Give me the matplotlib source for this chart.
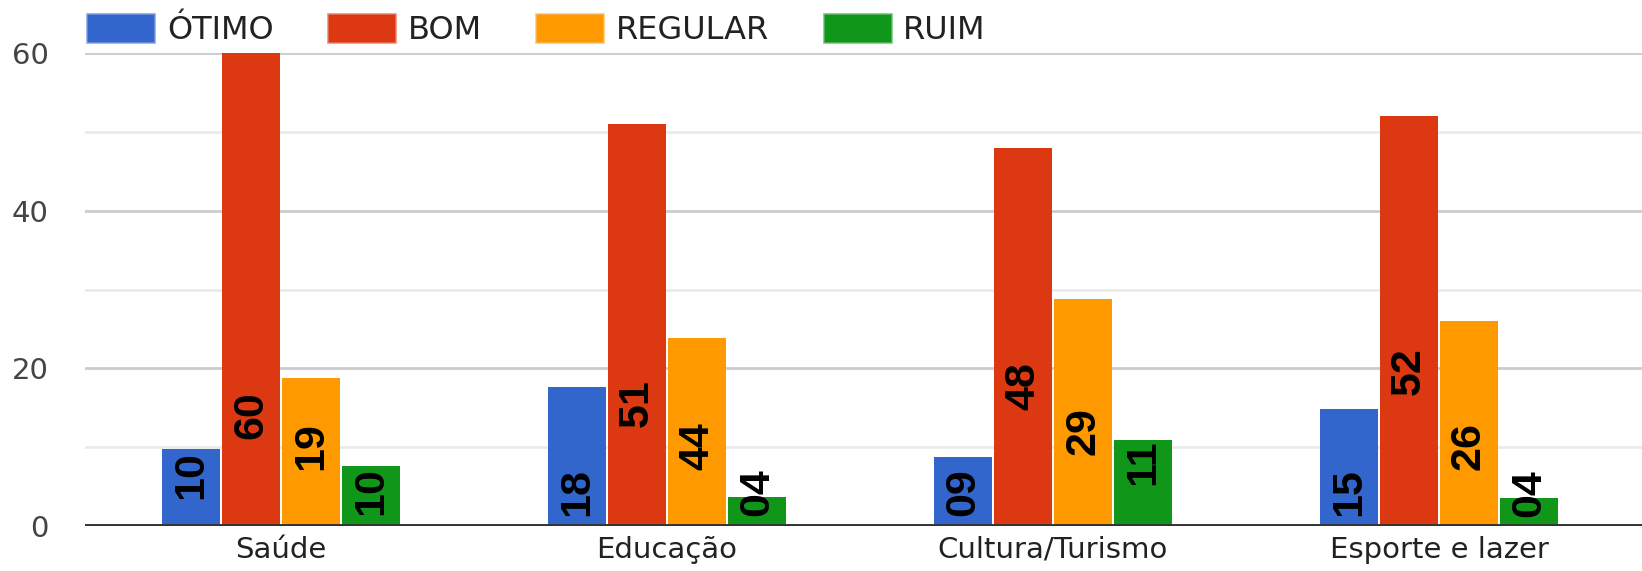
import numpy as np
import matplotlib.pyplot as plt
from matplotlib.patches import Patch

# categories and series
categories = ['Saúde', 'Educação', 'Cultura/Turismo', 'Esporte e lazer']
series = ['ÓTIMO', 'BOM', 'REGULAR', 'RUIM']
colors = ['#3366cc', '#dc3912', '#ff9900', '#109618']

# bar heights as drawn
otimo = [9.8, 17.6, 8.8, 14.8]
bom = [60, 51, 48, 52]
regular = [18.8, 23.8, 28.8, 26]
ruim = [7.6, 3.7, 10.9, 3.6]

# numbers written on the bars
otimo_lbl = ['10', '18', '09', '15']
bom_lbl = ['60', '51', '48', '52']
regular_lbl = ['19', '44', '29', '26']
ruim_lbl = ['10', '04', '11', '04']

# height of the centre of each written number
otimo_lbl_y = [6.5, 4.35, 4.3, 4.3]
bom_lbl_y = [14.1, 15.6, 17.8, 19.7]
regular_lbl_y = [10.1, 10.1, 12.0, 10.1]
ruim_lbl_y = [4.4, 4.3, 8.1, 4.2]

values = [otimo, bom, regular, ruim]
labels = [otimo_lbl, bom_lbl, regular_lbl, ruim_lbl]
label_y = [otimo_lbl_y, bom_lbl_y, regular_lbl_y, ruim_lbl_y]

plt.rcParams['font.family'] = 'DejaVu Sans'

fig = plt.figure(figsize=(16.42, 5.71), dpi=100)
ax = fig.add_axes([85 / 1642, 1 - 526 / 571, 1 - 85 / 1642, (526 - 53.3) / 571])

x = np.arange(len(categories))
slot = 0.1555
width = 0.149
for i, (vals, c) in enumerate(zip(values, colors)):
    pos = x + (i - 1.5) * slot
    ax.bar(pos, vals, width=width, color=c, zorder=2)
    for px, ly, txt in zip(pos, label_y[i], labels[i]):
        ax.text(px, ly, txt, rotation=90, ha='center', va='center',
                fontsize=31, fontweight='bold', family='Liberation Sans',
                color='black', zorder=3)

ax.set_xlim(-0.508, 3.526)
ax.set_ylim(0, 60)
ax.set_yticks([0, 20, 40, 60])
ax.set_yticks([10, 30, 50], minor=True)
ax.grid(True, which='major', axis='y', color='#cccccc', lw=2, zorder=0)
ax.grid(True, which='minor', axis='y', color='#ebebeb', lw=2, zorder=0)
ax.set_axisbelow(True)
ax.axhline(0, color='#333333', lw=2.8, zorder=4)
for s in ax.spines.values():
    s.set_visible(False)

ax.set_xticks(x)
ax.set_xticklabels(categories, fontsize=21, color='#222222')
ax.tick_params(axis='x', length=0, pad=7)
ax.tick_params(axis='y', which='both', length=0, pad=26, labelsize=21, labelcolor='#444444')

handles = [Patch(facecolor=c, edgecolor=(*plt.matplotlib.colors.to_rgb(c), 0.5), lw=2)
           for c in colors]
fig.legend(handles, series, loc='center left', bbox_to_anchor=(87 / 1642, 1 - 30 / 571),
           ncol=4, frameon=False, fontsize=23, handlelength=2.1, handleheight=1.0,
           handletextpad=0.4, columnspacing=1.7, borderpad=0, borderaxespad=0,
           labelcolor='#222222')

fig.savefig('out.png', dpi=100)
